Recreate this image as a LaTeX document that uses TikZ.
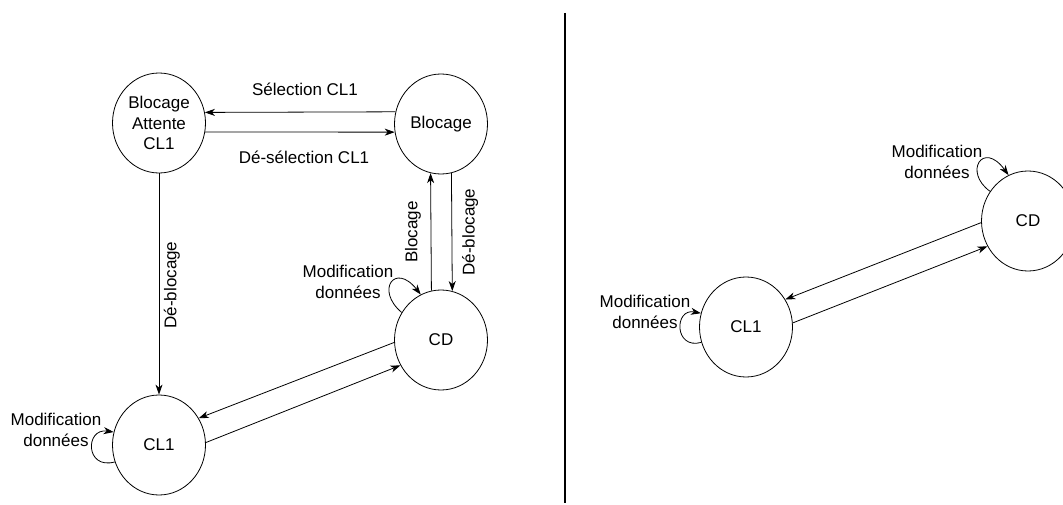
\documentclass[tikz,border=0pt]{standalone}
\usepackage{fontspec}
\setmainfont{Liberation Sans}
\usetikzlibrary{arrows.meta,shapes.geometric}
\tikzset{
  state/.style={ellipse, draw, line width=0.8pt, minimum width=93pt, minimum height=100pt, inner sep=0pt, align=center},
  arr/.style={line width=0.8pt, -{Stealth[length=10pt,width=7pt,inset=3pt]}},
  lbl/.style={align=center, inner sep=0pt},
}
\begin{document}
\begin{tikzpicture}[x=1pt,y=-1pt,font=\fontsize{17}{20.5}\selectfont]
\useasboundingbox (0,0) rectangle (1063,505);
% left panel states
\node[state] (BA) at (159,123) {Blocage\\Attente\\CL1};
\node[state] (B) at (441,124) {Blocage};
\node[state] (CD) at (441,340) {CD};
\node[state] (CLa) at (159,445) {CL1};
% right panel states
\node[state] (CLb) at (746,327) {CL1};
\node[state] (CDb) at (1028,221) {CD};
% divider
\coordinate (dtop) at (565,13);
\coordinate (dbot) at (565,503);
\draw[line width=2pt] (dtop) -- (dbot);
% horizontal arrows
\draw[arr] (B.165.4) -- (BA.13.5);
\draw[arr] (BA.-11) -- (B.190);
\node[lbl] (l1) at (305,89) {Sélection CL1};
\node[lbl] (l2) at (304,157) {Dé-sélection CL1};
% vertical arrows
\draw[arr] (BA.south) -- (CLa.north);
\node[lbl, rotate=90] (l3) at (172,285) {Dé-blocage};
\draw[arr] (CD.101.6) -- (B.258.4);
\draw[arr] (B.282.75) -- (CD.77.25);
\node[lbl, rotate=90] (l4) at (413,232) {Blocage};
\node[lbl, rotate=90] (l5) at (470,232) {Dé-blocage};
% diagonal arrows left
\draw[arr] (CD.183.6) -- (CLa.34);
\draw[arr] (CLa.3.6) -- (CD.212);
% diagonal arrows right
\draw[arr] (CDb.182.5) -- (CLb.35.3);
\draw[arr] (CLb.5.8) -- (CDb.212.4);
% self loops
\draw[arr] (CLa.201) .. controls (85,470) and (85,428) .. (CLa.164);
\node[lbl] (m1) at (56,430) {Modification\\données};
\draw[arr] (CLb.199.7) .. controls (674,350) and (674,308) .. (CLb.163.3);
\node[lbl] (m2) at (645,312) {Modification\\données};
\draw[arr] (CD.145.7) .. controls (375,290) and (395,262) .. (CD.114);
\node[lbl] (m3) at (348,282) {Modification\\données};
\draw[arr] (CDb.142.6) .. controls (963,172) and (983,140) .. (CDb.113.5);
\node[lbl] (m4) at (937,162) {Modification\\données};
\end{tikzpicture}
\end{document}
